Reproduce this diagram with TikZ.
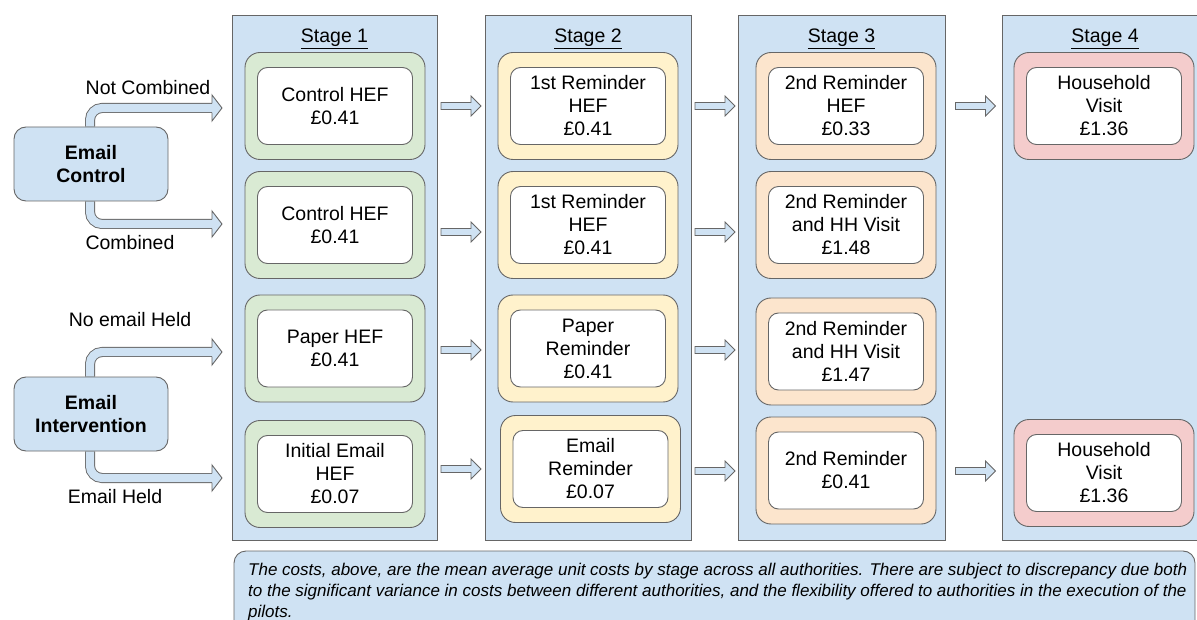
\documentclass[tikz,border=0pt]{standalone}
\usepackage{fontspec}
\setmainfont{Liberation Sans}
\usetikzlibrary{backgrounds}

\definecolor{panelblue}{HTML}{CFE2F3}
\definecolor{edgegray}{HTML}{666666}
\definecolor{hefgreen}{HTML}{D9EAD3}
\definecolor{remyellow}{HTML}{FFF2CC}
\definecolor{remorange}{HTML}{FCE5CD}
\definecolor{visitred}{HTML}{F4CCCC}

\tikzset{
	panel/.style={draw=edgegray, fill=panelblue, line width=0.9pt},
	outerbox/.style={draw=edgegray, line width=0.9pt, rounded corners=15pt, minimum width=180pt, minimum height=107pt, inner sep=0pt},
	innerbox/.style={draw=edgegray, fill=white, line width=0.9pt, rounded corners=10pt, minimum width=155pt, minimum height=77pt, inner sep=0pt, align=center},
	groupbox/.style={draw=edgegray, fill=panelblue, line width=0.9pt, rounded corners=12pt, minimum width=154pt, minimum height=74pt, align=center, font=\fontsize{19.5}{23}\selectfont\bfseries},
	bandline/.style={draw=edgegray, line width=0.9pt, double=panelblue, double distance=8.2pt, rounded corners=12pt},
	bandhead/.pic={
		\fill[panelblue] (-10,-13) -- (0,0) -- (-10,13) -- cycle;
		\draw[edgegray, line width=0.9pt, line join=miter] (-10,-4.6) -- (-10,-13) -- (0,0) -- (-10,13) -- (-10,4.6);
	},
	stagearrow/.pic={
		\filldraw[fill=panelblue, draw=edgegray, line width=0.8pt, line join=miter] (-20,-3.5) -- (10,-3.5) -- (10,-10) -- (20,0) -- (10,10) -- (10,3.5) -- (-20,3.5) -- cycle;
	},
}

\begin{document}
\begin{tikzpicture}[x=1pt, y=-1pt, font=\fontsize{19.5}{23}\selectfont]
	\useasboundingbox (0,0) rectangle (1197,620);
	\clip (0,0) rectangle (1197,620);
	%
	% stage panels
	\draw[panel] (232,15) rectangle (437,540);
	\draw[panel] (485,15) rectangle (691,540);
	\draw[panel] (738,15) rectangle (945,540);
	\draw[panel] (1002,15) rectangle (1215,540);
	\node (st1) at (334.5,39) {\underline{Stage 1}};
	\node (st2) at (588,39) {\underline{Stage 2}};
	\node (st3) at (841.5,39) {\underline{Stage 3}};
	\node (st4) at (1105,39) {\underline{Stage 4}};
	%
	% stage 1
	\node[outerbox, fill=hefgreen] (s1a) at (335,106) {};
	\node[innerbox] (s1at) at (s1a) {Control HEF\\£0.41};
	\node[outerbox, fill=hefgreen] (s1b) at (335,225) {};
	\node[innerbox] (s1bt) at (s1b) {Control HEF\\£0.41};
	\node[outerbox, fill=hefgreen] (s1c) at (335,348.5) {};
	\node[innerbox] (s1ct) at (s1c) {Paper HEF\\£0.41};
	\node[outerbox, fill=hefgreen] (s1d) at (335,474) {};
	\node[innerbox] (s1dt) at (s1d) {Initial Email\\HEF\\£0.07};
	%
	% stage 2
	\node[outerbox, fill=remyellow] (s2a) at (588,106) {};
	\node[innerbox] (s2at) at (s2a) {1st Reminder\\HEF\\£0.41};
	\node[outerbox, fill=remyellow] (s2b) at (588,225) {};
	\node[innerbox] (s2bt) at (s2b) {1st Reminder\\HEF\\£0.41};
	\node[outerbox, fill=remyellow] (s2c) at (588,348.5) {};
	\node[innerbox] (s2ct) at (s2c) {Paper\\Reminder\\£0.41};
	\node[outerbox, fill=remyellow] (s2d) at (590.5,469) {};
	\node[innerbox] (s2dt) at (s2d) {Email\\Reminder\\£0.07};
	%
	% stage 3
	\node[outerbox, fill=remorange] (s3a) at (846,106) {};
	\node[innerbox] (s3at) at (s3a) {2nd Reminder\\HEF\\£0.33};
	\node[outerbox, fill=remorange] (s3b) at (846,225) {};
	\node[innerbox] (s3bt) at (s3b) {2nd Reminder\\and HH Visit\\£1.48};
	\node[outerbox, fill=remorange] (s3c) at (846,351.5) {};
	\node[innerbox] (s3ct) at (s3c) {2nd Reminder\\and HH Visit\\£1.47};
	\node[outerbox, fill=remorange] (s3d) at (846,470.5) {};
	\node[innerbox] (s3dt) at (s3d) {2nd Reminder\\£0.41};
	%
	% stage 4
	\node[outerbox, fill=visitred] (s4a) at (1104,106) {};
	\node[innerbox] (s4at) at (s4a) {Household\\Visit\\£1.36};
	\node[outerbox, fill=visitred] (s4d) at (1104,473) {};
	\node[innerbox] (s4dt) at (s4d) {Household\\Visit\\£1.36};
	%
	% arrows between stages
	\pic at (461,106) {stagearrow};
	\pic at (461,232) {stagearrow};
	\pic at (461,350) {stagearrow};
	\pic at (461,469) {stagearrow};
	\pic at (715,106) {stagearrow};
	\pic at (715,232) {stagearrow};
	\pic at (715,350) {stagearrow};
	\pic at (715,471) {stagearrow};
	\pic at (975.5,106) {stagearrow};
	\pic at (975.5,471) {stagearrow};
	%
	% groups on the left
	\node[groupbox] (ec) at (91,164) {Email\\Control};
	\node[groupbox] (ei) at (91,414) {Email\\Intervention};
	\coordinate (nctip) at (222,108);
	\coordinate (cbtip) at (222,224);
	\coordinate (netip) at (222,352);
	\coordinate (ehtip) at (222,478);
	\begin{scope}[on background layer]
		\draw[bandline] ([xshift=-1pt]ec.north) |- ([xshift=-10pt]nctip);
		\draw[bandline] ([xshift=-1pt]ec.south) |- ([xshift=-10pt]cbtip);
		\draw[bandline] ([xshift=-1pt]ei.north) |- ([xshift=-10pt]netip);
		\draw[bandline] ([xshift=-1pt]ei.south) |- ([xshift=-10pt]ehtip);
	\end{scope}
	\pic at (nctip) {bandhead};
	\pic at (cbtip) {bandhead};
	\pic at (netip) {bandhead};
	\pic at (ehtip) {bandhead};
	\node (nclabel) at (148,88) {Not Combined};
	\node (cblabel) at (130,243) {Combined};
	\node (nelabel) at (130,320) {No email Held};
	\node (ehlabel) at (115,497) {Email Held};
	%
	% note
	\draw[panel, rounded corners=12pt] (234,551) rectangle (1195,650);
	\node[anchor=base west, align=left, inner sep=0pt, font=\fontsize{17}{21}\selectfont\itshape] (note) at (248,617) {The costs, above, are the mean average unit costs by stage across all authorities. There are subject to discrepancy due both\\to the significant variance in costs between different authorities, and the flexibility offered to authorities in the execution of the\\pilots.};
\end{tikzpicture}
\end{document}
